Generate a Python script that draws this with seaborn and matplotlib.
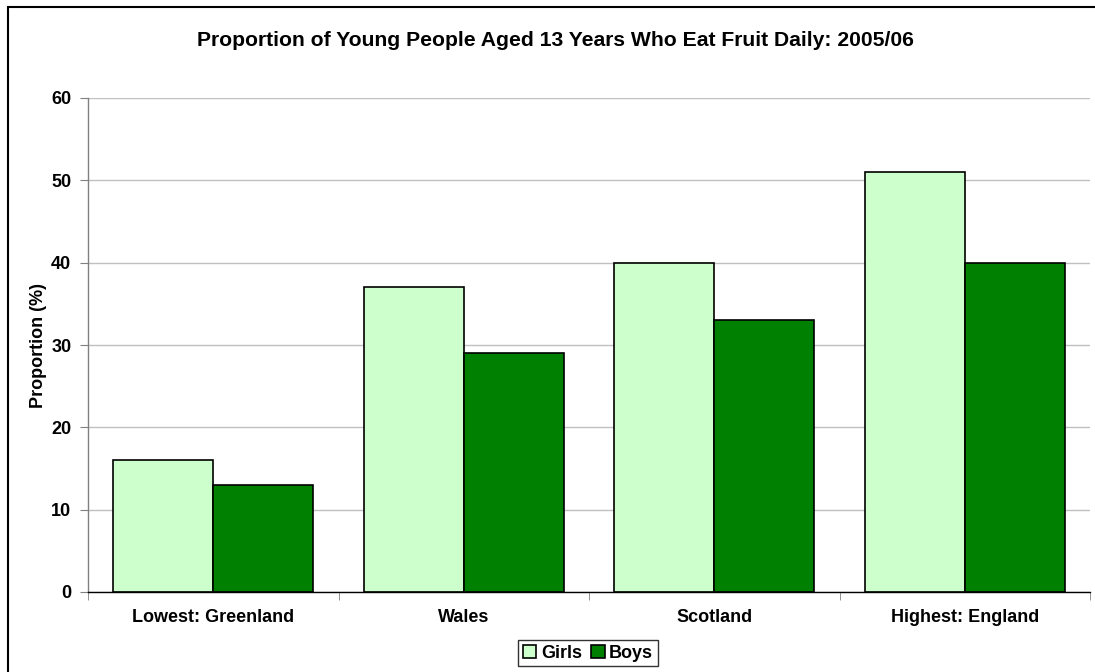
import pandas as pd
import numpy as np
import matplotlib
matplotlib.use("Agg")
import matplotlib.pyplot as plt
import matplotlib.patches as mpatches
import seaborn as sns

# data
regions = ["Lowest: Greenland", "Wales", "Scotland", "Highest: England"]
girls = [16, 37, 40, 51]
boys = [13, 29, 33, 40]

df = pd.DataFrame({
    "region": regions * 2,
    "sex": ["Girls"] * 4 + ["Boys"] * 4,
    "value": girls + boys,
})

sns.set_style("white")
plt.rcParams["font.family"] = ["Liberation Sans", "DejaVu Sans"]
plt.rcParams["font.weight"] = "bold"
plt.rcParams["text.color"] = "black"
plt.rcParams["xtick.color"] = "black"
plt.rcParams["ytick.color"] = "black"
plt.rcParams["axes.labelcolor"] = "black"

fig = plt.figure(figsize=(10.95, 6.72), dpi=100)
ax = fig.add_axes([88 / 1095, 1 - 592 / 672, (1090 - 88) / 1095, (592 - 98) / 672])

sns.barplot(data=df, x="region", y="value", hue="sex",
            palette=["#CCFFCC", "#008000"], edgecolor="black", linewidth=1.2,
            width=0.8, saturation=1, ax=ax)

ax.set_xlim(-0.5, 3.5)
ax.set_ylim(0, 60)
ax.set_yticks(range(0, 61, 10))
ax.yaxis.grid(True, color="#C0C0C0", linewidth=1)
ax.set_axisbelow(True)
ax.tick_params(axis="y", which="major", length=6, color="#808080", left=True,
               labelsize=13, pad=6)
ax.set_xticks(range(4))
ax.set_xticklabels(regions, fontsize=13, fontweight="bold")
ax.tick_params(axis="x", which="major", length=0, pad=12)
ax.set_xticks(np.arange(-0.5, 4, 1), minor=True)
ax.tick_params(axis="x", which="minor", length=6, color="#808080", bottom=True)
for lab in ax.get_yticklabels():
    lab.set_fontweight("bold")

for s in ["top", "right"]:
    ax.spines[s].set_visible(False)
for s in ["left", "bottom"]:
    ax.spines[s].set_color("#808080")
    ax.spines[s].set_linewidth(1)
ax.spines["bottom"].set_color("black")

ax.set_xlabel("")
ax.set_ylabel("Proportion (%)", fontsize=13, fontweight="bold", labelpad=3)

fig.text(555 / 1095, 1 - 41 / 672,
         "Proportion of Young People Aged 13 Years Who Eat Fruit Daily: 2005/06",
         ha="center", va="center", fontsize=15.2, fontweight="bold")

handles, labels = ax.get_legend_handles_labels()
ax.get_legend().remove()
leg = fig.legend(handles, labels, loc="upper center",
                 bbox_to_anchor=(588 / 1095, 1 - 640 / 672), ncol=2,
                 frameon=True, fancybox=False, edgecolor="black",
                 prop={"weight": "bold", "size": 13},
                 handlelength=0.75, handleheight=0.75, handletextpad=0.25,
                 columnspacing=0.5, borderpad=0.25, borderaxespad=0)
leg.get_frame().set_linewidth(1)

# outer chart frame
fig.patches.append(mpatches.Rectangle((8 / 1095, -0.05), 1.2, 1 - 7 / 672 + 0.05,
                                      transform=fig.transFigure, fill=False,
                                      edgecolor="black", linewidth=1.5,
                                      clip_on=False, zorder=-1))

fig.savefig("out.png", dpi=100)
